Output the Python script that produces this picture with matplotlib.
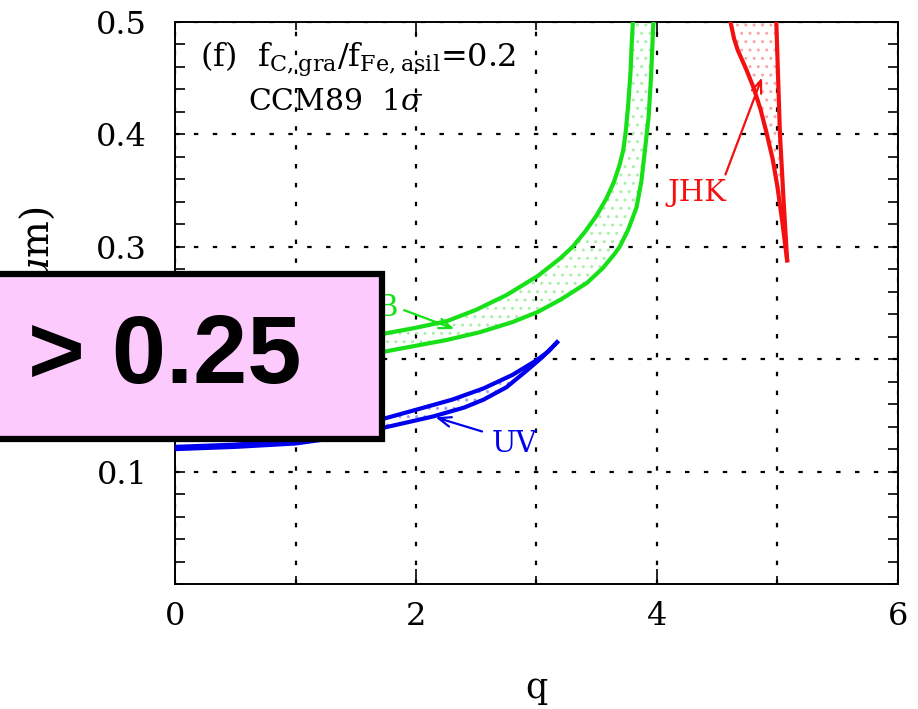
# q versus grain size, three bands, with a pink "> 0.25" tag pasted over the left
import matplotlib
matplotlib.use("Agg")
import matplotlib.pyplot as plt
from matplotlib.patches import Rectangle
from matplotlib.ticker import MultipleLocator

# set font
plt.rcParams['font.family'] = ['DejaVu Serif']
plt.rcParams['mathtext.fontset'] = 'dejavuserif'
plt.rcParams['hatch.linewidth'] = 1.0

# set data
b_upper_q = [1.50, 1.70, 2.00, 2.26, 2.50, 2.75, 3.01, 3.20, 3.30, 3.40, 3.50, 3.58, 3.64, 3.69,
             3.72, 3.74, 3.76, 3.78, 3.79, 3.80]
b_upper_a = [0.218, 0.222, 0.228, 0.234, 0.244, 0.257, 0.274, 0.290, 0.300, 0.313, 0.328, 0.343,
             0.357, 0.373, 0.386, 0.402, 0.425, 0.455, 0.480, 0.500]
b_lower_q = [1.50, 1.70, 2.00, 2.25, 2.53, 2.80, 3.01, 3.20, 3.42, 3.55, 3.65, 3.69, 3.76, 3.83,
             3.87, 3.90, 3.93, 3.95, 3.96, 3.97]
b_lower_a = [0.203, 0.206, 0.212, 0.217, 0.224, 0.233, 0.242, 0.253, 0.268, 0.281, 0.294, 0.300,
             0.315, 0.335, 0.358, 0.386, 0.415, 0.450, 0.475, 0.500]

uv_upper_q = [0.0, 0.5, 1.0, 1.4, 1.73, 2.0, 2.3, 2.56, 2.8, 3.0, 3.1, 3.17]
uv_upper_a = [0.122, 0.124, 0.128, 0.137, 0.147, 0.155, 0.164, 0.174, 0.186, 0.199, 0.207, 0.215]
uv_lower_q = [0.0, 0.5, 1.0, 1.4, 1.73, 2.14, 2.4, 2.56, 2.75, 2.92, 3.05, 3.17]
uv_lower_a = [0.120, 0.122, 0.125, 0.131, 0.139, 0.149, 0.157, 0.164, 0.175, 0.190, 0.202, 0.215]

jhk_left_q = [4.61, 4.64, 4.67, 4.74, 4.80, 4.86, 4.91, 4.96, 5.00, 5.04, 5.08]
jhk_left_a = [0.500, 0.485, 0.475, 0.458, 0.442, 0.422, 0.401, 0.378, 0.353, 0.322, 0.288]
jhk_right_q = [4.99, 5.02, 5.05, 5.08]
jhk_right_a = [0.500, 0.401, 0.342, 0.288]

green = '#18e018'
blue = '#0000ee'
red = '#f41010'

fig = plt.figure(figsize=(9.18, 7.09), dpi=100)
ax = fig.add_axes([175/918, 1-584/709, 723/918, 562/709])


def band(qa, aa, qb, ab, color, light):
    # dotted region between two curves, then the two edges
    ax.fill(qa + qb[::-1], aa + ab[::-1], facecolor='none', edgecolor=light,
            hatch='..', linewidth=0, zorder=2)
    ax.plot(qa, aa, color=color, lw=3.0, zorder=3, solid_joinstyle='round')
    ax.plot(qb, ab, color=color, lw=3.0, zorder=3, solid_joinstyle='round')


band(b_upper_q, b_upper_a, b_lower_q, b_lower_a, green, '#a8f0a8')
band(uv_upper_q, uv_upper_a, uv_lower_q, uv_lower_a, blue, '#a0a0f4')
band(jhk_left_q, jhk_left_a, jhk_right_q, jhk_right_a, red, '#f8a8a8')

# labels with arrows
arr = '->,head_length=0.9,head_width=0.35'
ax.text(1.85, 0.2456, 'B', color=green, fontsize=21, ha='right', va='center')
ax.annotate('', xy=(2.34, 0.226), xytext=(1.88, 0.2445),
            arrowprops=dict(arrowstyle=arr, color=green, lw=1.6))
ax.text(2.82, 0.125, 'UV', color=blue, fontsize=21, ha='center', va='center')
ax.annotate('', xy=(2.14, 0.149), xytext=(2.57, 0.135),
            arrowprops=dict(arrowstyle=arr, color=blue, lw=1.6))
ax.text(4.33, 0.348, 'JHK', color=red, fontsize=21, ha='center', va='center')
ax.annotate('', xy=(4.88, 0.453), xytext=(4.56, 0.362),
            arrowprops=dict(arrowstyle=arr, color=red, lw=1.6))

# panel text
ax.text(0.035, 0.968, r'(f)  f$_{\mathrm{C,gra}}$/f$_{\mathrm{Fe,asil}}$=0.2',
        transform=ax.transAxes, fontsize=23, ha='left', va='top')
ax.text(0.101, 0.857, r'CCM89  1$\sigma$', transform=ax.transAxes,
        fontsize=21.5, ha='left', va='center')

# axes
ax.set_xlim(0, 6)
ax.set_ylim(0, 0.5)
ax.set_xticks([0, 2, 4, 6])
ax.xaxis.set_minor_locator(MultipleLocator(1))
ax.set_yticks([0.1, 0.2, 0.3, 0.4, 0.5])
ax.yaxis.set_minor_locator(MultipleLocator(0.02))
ax.tick_params(which='both', direction='in', top=True, right=True,
               width=1.2, labelsize=23)
ax.tick_params(axis='x', which='major', length=11, pad=12)
ax.tick_params(axis='x', which='minor', length=6)
ax.tick_params(axis='y', which='both', length=7, pad=20)
for s in ax.spines.values():
    s.set_linewidth(1.4)

ax.xaxis.grid(True, which='both', color='black', lw=1.6, linestyle=(0, (2.0, 6.5)))
ax.yaxis.grid(True, which='major', color='black', lw=1.6, linestyle=(0, (2.0, 6.5)))

ax.set_xlabel('q', fontsize=25, labelpad=28)
ax.set_ylabel(r'$a$ ($\mu$m)', fontsize=28)
ax.yaxis.set_label_coords(-0.16, 0.56)

# pink tag over the left side
tag = Rectangle((-10/918, 1-439/709), 392/918, 165/709, transform=fig.transFigure,
                facecolor='#fdcafd', edgecolor='black', linewidth=4.5, zorder=10)
fig.patches.append(tag)
fig.text(28/918, 1-383/709, '> 0.25', family='Liberation Sans', weight='bold',
         fontsize=70, ha='left', va='baseline', zorder=11)

plt.savefig('out.png', dpi=100)
